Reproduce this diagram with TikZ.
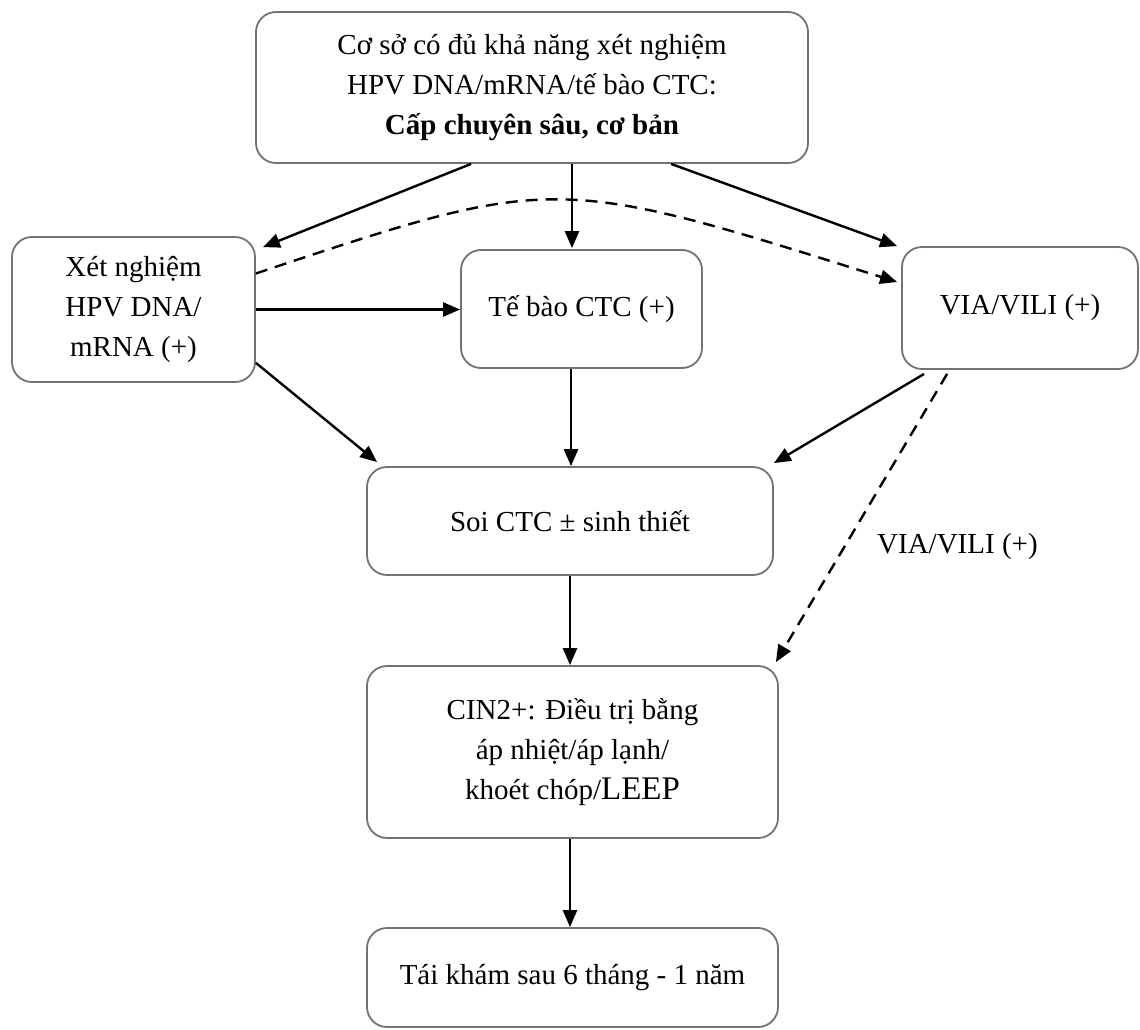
\documentclass[tikz,border=0pt]{standalone}
\usepackage{fontspec}
\setmainfont{Liberation Serif}
\usetikzlibrary{arrows.meta,calc}
\begin{document}
\begin{tikzpicture}[x=1pt,y=-1pt,
  box/.style={draw=black!55,line width=1.8pt,rounded corners=20pt,align=center,inner sep=0pt,font=\fontsize{29}{40}\selectfont},
  arr/.style={line width=2.4pt,-{Triangle[length=17pt,width=14pt]}},
  darr/.style={arr,dash pattern=on 12pt off 8pt},
  lbl/.style={font=\fontsize{29}{40}\selectfont,inner sep=0pt}]
\useasboundingbox (0,0) rectangle (1140,1029);
\fill[white] (0,0) rectangle (1140,1029);

\node[box,minimum width=552pt,minimum height=151pt] (top) at (532,87.5)
  {Cơ sở có đủ khả năng xét nghiệm\\HPV DNA/mRNA/tế bào CTC:\\\textbf{Cấp chuyên sâu, cơ bản}};
\node[box,minimum width=243pt,minimum height=145pt] (xn) at (133.5,309.5)
  {Xét nghiệm\\HPV DNA/\\mRNA (+)};
\node[box,minimum width=241pt,minimum height=118pt] (tb) at (581.5,309) {Tế bào CTC (+)};
\node[box,minimum width=236pt,minimum height=122pt] (via) at (1020,308) {VIA/VILI (+)};
\node[box,minimum width=406pt,minimum height=108pt] (soi) at (570,521) {Soi CTC ± sinh thiết};
\node[box,minimum width=411pt,minimum height=172pt] (cin) at (572.5,752)
  {CIN2+: Điều trị bằng\\áp nhiệt/áp lạnh/\\khoét chóp/{\fontsize{33}{40}\selectfont LEEP}};
\node[box,minimum width=411pt,minimum height=99pt] (tk) at (572.5,977.5) {Tái khám sau 6 tháng - 1 năm};
\node[lbl,anchor=base west] (lab) at (877,553) {VIA/VILI (+)};

\draw[arr] ($(top.south west)+(216,0)$) -- ($(xn.north east)+(7,11)$);
\draw[arr] ($(top.south)+(40,0)$) -- ($(tb.north)+(-9.5,-1)$);
\draw[arr] ($(top.south west)+(416,0)$) -- ($(via.north west)+(-4,0)$);
\draw[arr] (xn.east) -- (xn.east -| tb.west);
\draw[arr] ($(xn.south east)+(0,-20)$) -- ($(soi.north west)+(11,-4)$);
\draw[darr] ($(xn.east)+(0,-36)$) .. controls (554,174) .. ($(via.west)+(-4,-26)$);
\draw[arr] ($(tb.south)+(-10.5,0)$) -- ($(soi.north)+(1,0)$);
\draw[arr] ($(via.south west)+(23,4)$) -- ($(soi.north east)+(0,-3)$);
\draw[darr] ($(via.south west)+(46,4)$) -- ($(cin.north east)+(-3,-3)$);
\draw[arr] (soi.south) -- (soi.south |- cin.north);
\draw[arr] ($(cin.south)+(-2.5,0)$) -- ($(tk.north)+(-2.5,0)$);
\end{tikzpicture}
\end{document}
